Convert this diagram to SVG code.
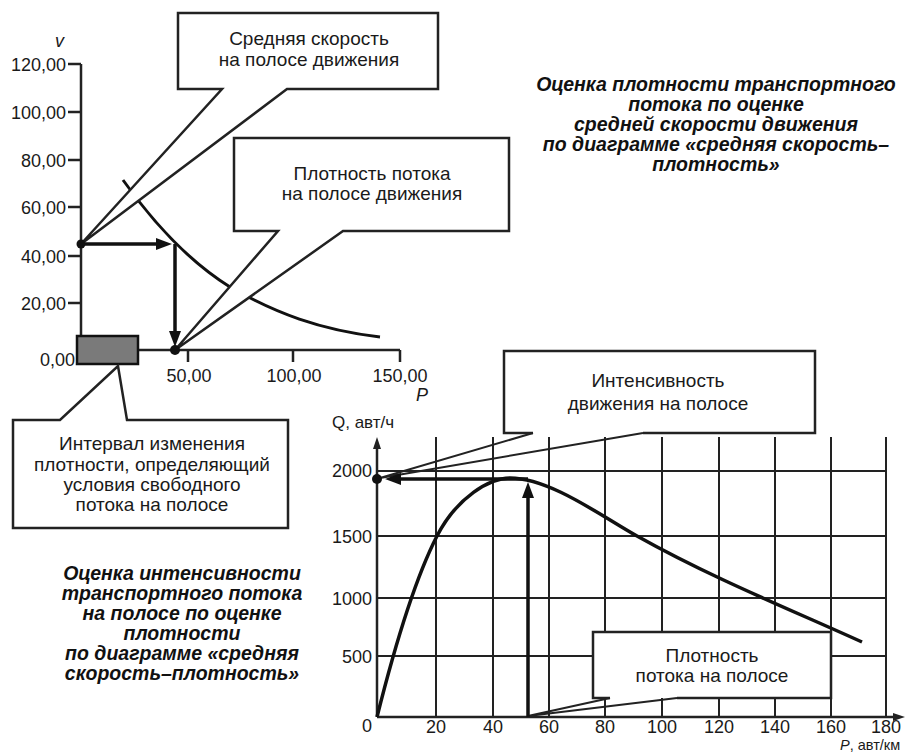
<svg xmlns="http://www.w3.org/2000/svg" width="917" height="754" viewBox="0 0 917 754">
<style>
.t{font-family:"Liberation Sans",Arial,sans-serif;font-size:18px;fill:#1a1a1a}
.c{font-size:19px}
.m{text-anchor:middle}
.e{text-anchor:end}
.i{font-style:italic}
.bi{font-family:"Liberation Sans",Arial,sans-serif;font-size:19.5px;font-weight:bold;font-style:italic;text-anchor:middle;fill:#111}
.box{fill:#fff;stroke:#222;stroke-width:2.5;stroke-linejoin:miter}
.ln{fill:none;stroke:#222;stroke-width:2}
.ax{stroke:#222;stroke-width:2.5;fill:none}
.grid{stroke:#222;stroke-width:2;fill:none}
.curve{stroke:#111;stroke-width:3;fill:none}
.arr{stroke:#111;stroke-width:3.5;fill:none}
.dot{fill:#111}
</style>
<defs>
<marker id="ah" viewBox="0 0 16 12" refX="8" refY="6" markerWidth="16" markerHeight="12" orient="auto" markerUnits="userSpaceOnUse"><path d="M0,0 L16,6 L0,12 Z" fill="#111"/></marker>
<marker id="axh" viewBox="0 0 12 8" refX="2" refY="4" markerWidth="12" markerHeight="8" orient="auto" markerUnits="userSpaceOnUse"><path d="M0,0 L12,4 L0,8 Z" fill="#222"/></marker>
</defs>

<g id="chart-top">
<path class="ax" d="M81,64 V350 H400"/>
<path class="ax" d="M68,64 H81 M68,112 H81 M68,160 H81 M68,207 H81 M68,256 H81 M68,303 H81 M188,350 V362 M293,350 V362 M400,350 V362"/>
<text class="t e" x="66" y="71">120,00</text>
<text class="t e" x="66" y="119">100,00</text>
<text class="t e" x="66" y="167">80,00</text>
<text class="t e" x="66" y="214">60,00</text>
<text class="t e" x="66" y="263">40,00</text>
<text class="t e" x="66" y="310">20,00</text>
<text class="t e" x="75" y="366">0,00</text>
<text class="t m" x="189" y="382">50,00</text>
<text class="t m" x="294" y="382">100,00</text>
<text class="t m" x="400" y="382">150,00</text>
<text class="t i" x="55" y="47">v</text>
<text class="t i" x="416" y="401">P</text>
<path class="curve" d="M123,180 C155,225 190,262 230,287 C275,313 320,330 380,337"/>
<rect x="77" y="336" width="61" height="28" fill="#7a7a7a" stroke="#111" stroke-width="2.5"/>
</g>

<g id="chart-bottom">
<path class="grid" d="M436,437 V717 M493,437 V717 M549,437 V717 M605,437 V717 M662,437 V717 M719,437 V717 M775,437 V717 M831,437 V717 M886,437 V717 M377,471 H886 M377,536 H886 M377,598 H886 M377,656 H886"/>
<path class="ax" d="M377,717 V447" marker-end="url(#axh)"/>
<path class="ax" d="M377,717 H895" marker-end="url(#axh)"/>
<text class="t e" x="372" y="477">2000</text>
<text class="t e" x="372" y="543">1500</text>
<text class="t e" x="372" y="605">1000</text>
<text class="t e" x="372" y="663">500</text>
<text class="t e" x="372" y="732">0</text>
<text class="t m" x="436" y="733">20</text>
<text class="t m" x="493" y="733">40</text>
<text class="t m" x="549" y="733">60</text>
<text class="t m" x="605" y="733">80</text>
<text class="t m" x="662" y="733">100</text>
<text class="t m" x="719" y="733">120</text>
<text class="t m" x="775" y="733">140</text>
<text class="t m" x="831" y="733">160</text>
<text class="t m" x="886" y="733">180</text>
<text class="t" x="332" y="428" style="font-size:17px">Q, авт/ч</text>
<text class="t" x="840" y="750" style="font-size:14.5px"><tspan class="i">P</tspan>, авт/км</text>
<path class="curve" style="stroke-width:3.5" d="M377,717 C397,637 417,575 437,536 C457,497 490,478 510,478 C550,478 602,516.5 637,536 C712,578 787,608 862,642"/>
</g>

<g id="callout-speed">
<path class="box" d="M178,13 H438 V89 H287 L81,244 L222,89 H178 Z"/>
<text class="t c m" x="309" y="45">Средняя скорость</text>
<text class="t c m" x="309" y="66">на полосе движения</text>
</g>

<g id="callout-density-top">
<path class="box" d="M234,138 H509 V231 H343 L175,350 L278,231 H234 Z"/>
<text class="t c m" x="372" y="180">Плотность потока</text>
<text class="t c m" x="372" y="200">на полосе движения</text>
</g>

<g id="callout-interval">
<path class="box" d="M13,420 H60 L118,366 L127,420 H288 V528 H13 Z"/>
<text class="t c m" x="152" y="450">Интервал изменения</text>
<text class="t c m" x="152" y="471">плотности, определяющий</text>
<text class="t c m" x="152" y="491">условия свободного</text>
<text class="t c m" x="152" y="511">потока на полосе</text>
</g>

<g id="callout-flow">
<path class="box" d="M533,433 H504 V351 H815 V433 H643"/>
<path class="ln" d="M533,433 L380,478 L643,433"/>
<text class="t c m" x="658" y="387">Интенсивность</text>
<text class="t c m" x="658" y="410">движения на полосе</text>
</g>

<g id="callout-density-bottom">
<path class="box" d="M610,698 H593 V632 H831 V698 H677"/>
<path class="ln" d="M610,698 L528,716 L677,698"/>
<text class="t c m" x="712" y="662">Плотность</text>
<text class="t c m" x="712" y="682">потока на полосе</text>
</g>

<g id="connectors">
<path class="arr" d="M81,244 H164" marker-end="url(#ah)"/>
<path class="arr" d="M175,244 V339" marker-end="url(#ah)"/>
<path class="arr" d="M528,717 V490" marker-end="url(#ah)"/>
<path class="arr" d="M528,479 H393" marker-end="url(#ah)"/>
<circle class="dot" cx="81" cy="244" r="4.5"/>
<circle class="dot" cx="175" cy="350" r="5"/>
<circle class="dot" cx="377" cy="479" r="5"/>
</g>

<g id="title-top">
<text class="bi" x="716" y="91">Оценка плотности транспортного</text>
<text class="bi" x="716" y="111">потока по оценке</text>
<text class="bi" x="716" y="131">средней скорости движения</text>
<text class="bi" x="716" y="151">по диаграмме «средняя скорость–</text>
<text class="bi" x="716" y="171">плотность»</text>
</g>

<g id="title-bottom">
<text class="bi" x="182" y="580">Оценка интенсивности</text>
<text class="bi" x="182" y="600">транспортного потока</text>
<text class="bi" x="182" y="620">на полосе по оценке</text>
<text class="bi" x="182" y="640">плотности</text>
<text class="bi" x="182" y="660">по диаграмме «средняя</text>
<text class="bi" x="182" y="680">скорость–плотность»</text>
</g>
</svg>
